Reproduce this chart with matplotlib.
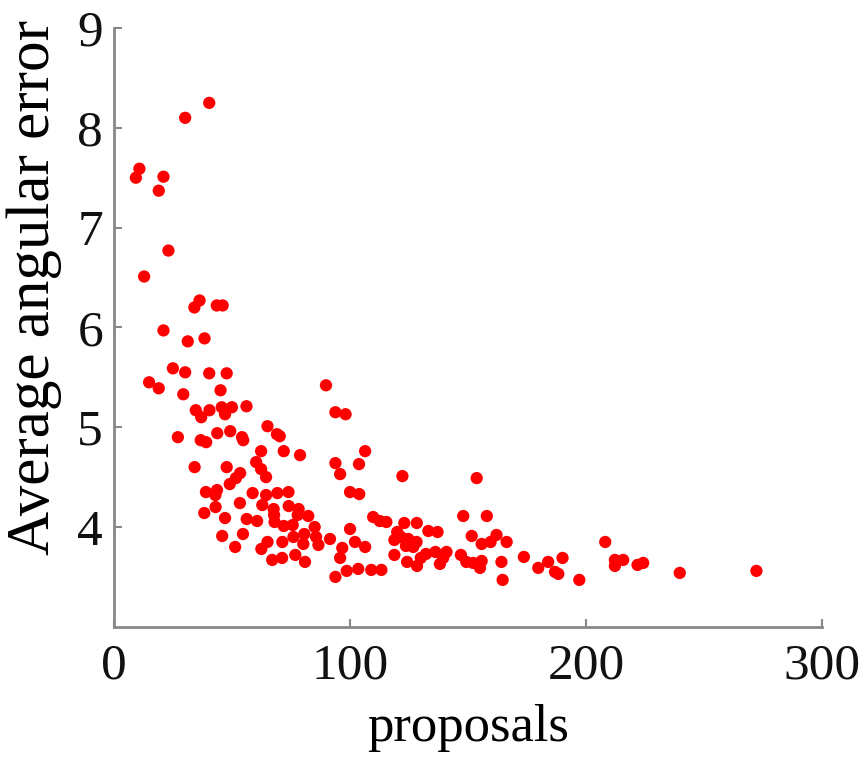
import matplotlib
matplotlib.use("Agg")
import matplotlib.pyplot as plt

proposals = [40.3, 30.1, 10.7, 9.2, 20.9, 18.9, 23.0, 12.7, 36.2, 34.0, 43.5, 46.0,
             20.9, 31.2, 38.3, 24.9, 30.1, 40.3, 47.7, 14.8, 18.9, 29.3, 45.1, 89.8,
             34.6, 36.9, 40.4, 45.6, 47.0, 49.9, 56.1, 93.8, 98.1, 65.0, 69.0, 70.2,
             27.0, 36.7, 39.0, 43.7, 49.2, 54.2, 54.7, 62.3, 71.9, 78.8, 60.2, 62.3,
             64.4, 34.1, 47.7, 53.4, 51.6, 49.0, 93.8, 95.8, 103.8, 106.4, 122.2, 153.7,
             38.9, 43.6, 42.9, 58.7, 64.4, 69.2, 73.9, 100.0, 103.9, 38.2, 43.0, 53.3,
             47.0, 62.8, 67.6, 67.8, 68.0, 74.0, 78.2, 77.8, 82.3, 56.2, 60.6, 71.9,
             75.7, 85.0, 100.0, 45.8, 54.6, 51.3, 62.4, 65.0, 71.3, 76.0, 80.6, 80.2,
             85.6, 86.6, 91.5, 96.7, 95.8, 102.1, 106.4, 67.0, 71.2, 76.8, 80.9, 93.8,
             98.6, 103.5, 109.0, 113.3, 109.8, 112.6, 115.4, 123.0, 128.3, 133.2, 137.1, 148.0,
             158.0, 120.0, 118.8, 121.6, 124.7, 128.2, 123.7, 126.8, 118.8, 124.2, 128.4, 130.0,
             132.2, 136.2, 138.1, 139.5, 140.9, 147.0, 149.3, 152.2, 155.8, 155.1, 151.6, 155.8,
             159.6, 162.1, 166.4, 164.2, 164.7, 173.7, 179.8, 184.0, 186.9, 188.3, 190.1, 197.2,
             208.2, 212.3, 212.3, 215.8, 221.9, 224.3, 239.8, 272.3]
angular_error = [8.25, 8.10, 7.59, 7.50, 7.51, 7.37, 6.77, 6.51, 6.27, 6.20, 6.22, 6.22,
                 5.97, 5.86, 5.89, 5.59, 5.55, 5.54, 5.54, 5.45, 5.39, 5.33, 5.37, 5.42,
                 5.17, 5.10, 5.17, 5.20, 5.13, 5.20, 5.21, 5.15, 5.13, 5.01, 4.93, 4.91,
                 4.90, 4.87, 4.85, 4.94, 4.96, 4.90, 4.87, 4.76, 4.76, 4.72, 4.65, 4.58,
                 4.50, 4.60, 4.60, 4.54, 4.49, 4.43, 4.64, 4.53, 4.63, 4.76, 4.51, 4.49,
                 4.35, 4.37, 4.32, 4.34, 4.32, 4.34, 4.35, 4.35, 4.33, 4.14, 4.20, 4.24,
                 4.09, 4.22, 4.18, 4.12, 4.05, 4.21, 4.18, 4.12, 4.11, 4.08, 4.06, 4.01,
                 4.02, 4.00, 3.98, 3.91, 3.93, 3.80, 3.78, 3.85, 3.85, 3.90, 3.93, 3.83,
                 3.90, 3.82, 3.88, 3.79, 3.69, 3.85, 3.80, 3.67, 3.69, 3.72, 3.65, 3.50,
                 3.56, 3.58, 3.57, 3.57, 4.10, 4.06, 4.05, 4.04, 4.04, 3.96, 3.95, 4.11,
                 4.11, 3.95, 3.87, 3.90, 3.88, 3.85, 3.81, 3.80, 3.72, 3.65, 3.61, 3.69,
                 3.73, 3.75, 3.63, 3.69, 3.75, 3.72, 3.65, 3.64, 3.66, 3.59, 3.91, 3.83,
                 3.85, 3.92, 3.85, 3.65, 3.47, 3.70, 3.59, 3.65, 3.55, 3.53, 3.69, 3.47,
                 3.85, 3.67, 3.61, 3.67, 3.62, 3.64, 3.54, 3.56]

x_ticks = [0, 100, 200, 300]
y_ticks = [4, 5, 6, 7, 8, 9]

plt.rcParams['font.family'] = ['Liberation Serif', 'DejaVu Serif']

fig = plt.figure(figsize=(8.65, 7.57), dpi=100)
ax = fig.add_axes([0.132, 0.172, 0.818, 0.791])
ax.scatter(proposals, angular_error, s=78, color='#ff0000', edgecolors='none', zorder=3)

ax.set_xlim(0, 300)
ax.set_ylim(3, 9)
ax.set_xticks(x_ticks)
ax.set_yticks(y_ticks)
ax.set_xticklabels([str(v) for v in x_ticks])
ax.set_yticklabels([str(v) for v in y_ticks])

for s in ['top', 'right']:
    ax.spines[s].set_visible(False)
for s in ['left', 'bottom']:
    ax.spines[s].set_color('#888888')
    ax.spines[s].set_linewidth(2)

ax.tick_params(axis='both', direction='in', length=6, width=1.5, color='#888888',
               labelsize=37, labelcolor='#111111')
ax.tick_params(axis='x', pad=12)
ax.tick_params(axis='y', pad=8)

ax.set_xlabel('proposals', fontsize=38, labelpad=10)
ax.set_ylabel('Average angular error', fontsize=44)
ax.yaxis.set_label_coords(-0.074, 0.567)

fig.savefig('out.png', dpi=100)
